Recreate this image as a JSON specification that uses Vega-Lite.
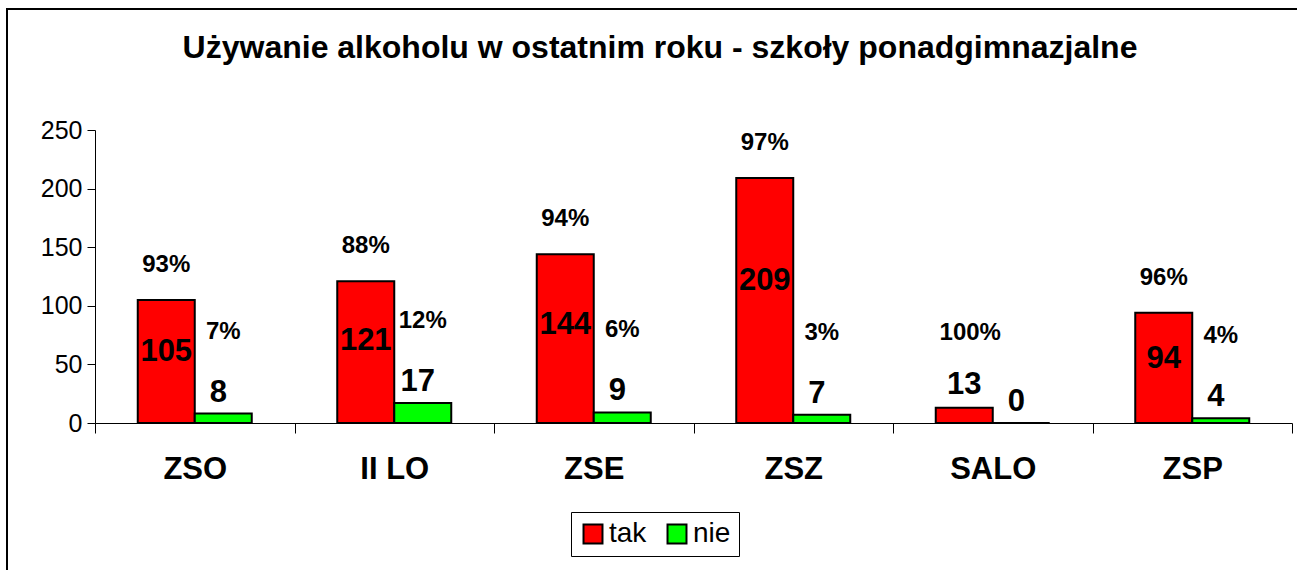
{
  "$schema": "https://vega.github.io/schema/vega-lite/v6.json",
  "width": 1294,
  "height": 565,
  "autosize": {"type": "none"},
  "padding": {"left": 7, "top": 9, "right": -4, "bottom": -4},
  "background": "white",
  "config": {
    "view": {"stroke": "#000", "strokeWidth": 2},
    "font": "Liberation Sans"
  },
  "title": {
    "text": "Używanie alkoholu w ostatnim roku - szkoły ponadgimnazjalne",
    "font": "Liberation Sans",
    "fontSize": 32,
    "fontWeight": "bold",
    "color": "#000",
    "anchor": "middle",
    "frame": "group",
    "offset": -56,
    "dx": 6
  },
  "data": {
    "values": [
      {"school": "ZSO", "series": "tak", "value": 105, "pct": "93%"},
      {"school": "ZSO", "series": "nie", "value": 8, "pct": "7%"},
      {"school": "II LO", "series": "tak", "value": 121, "pct": "88%"},
      {"school": "II LO", "series": "nie", "value": 17, "pct": "12%"},
      {"school": "ZSE", "series": "tak", "value": 144, "pct": "94%"},
      {"school": "ZSE", "series": "nie", "value": 9, "pct": "6%"},
      {"school": "ZSZ", "series": "tak", "value": 209, "pct": "97%"},
      {"school": "ZSZ", "series": "nie", "value": 7, "pct": "3%"},
      {"school": "SALO", "series": "tak", "value": 13, "pct": "100%"},
      {"school": "SALO", "series": "nie", "value": 0, "pct": ""},
      {"school": "ZSP", "series": "tak", "value": 94, "pct": "96%"},
      {"school": "ZSP", "series": "nie", "value": 4, "pct": "4%"}
    ]
  },
  "encoding": {
    "x": {
      "field": "school",
      "type": "nominal",
      "sort": ["ZSO", "II LO", "ZSE", "ZSZ", "SALO", "ZSP"],
      "scale": {"range": [88, 1285], "paddingInner": 0, "paddingOuter": 0},
      "axis": {
        "title": null,
        "orient": "bottom",
        "offset": -151,
        "tickBand": "extent",
        "tickSize": 10,
        "tickColor": "#000",
        "domainColor": "#000",
        "labelFontSize": 31,
        "labelFontWeight": "bold",
        "labelColor": "#000",
        "labelPadding": 21,
        "labelAngle": 0,
        "grid": false
      }
    },
    "xOffset": {
      "field": "series",
      "type": "nominal",
      "sort": ["tak", "nie"],
      "scale": {"paddingInner": 0, "paddingOuter": 0.75}
    }
  },
  "resolve": {"scale": {"y": "independent"}},
  "layer": [
    {
      "mark": {"type": "bar", "stroke": "#000", "strokeWidth": 2},
      "encoding": {
        "y": {
          "field": "value",
          "type": "quantitative",
          "scale": {"domain": [0, 250], "range": [414, 121], "nice": false},
          "axis": {
            "title": null,
            "offset": -88,
            "values": [0, 50, 100, 150, 200, 250],
            "tickSize": 8,
            "tickColor": "#000",
            "domainColor": "#000",
            "labelFontSize": 25,
            "labelColor": "#000",
            "labelPadding": 5,
            "grid": false
          }
        },
        "color": {
          "field": "series",
          "type": "nominal",
          "scale": {"domain": ["tak", "nie"], "range": ["#FF0000", "#00FF00"]},
          "legend": {
            "orient": "none",
            "legendX": 564,
            "legendY": 503,
            "direction": "horizontal",
            "title": null,
            "strokeColor": "#000",
            "fillColor": "white",
            "padding": 8,
            "symbolType": "square",
            "symbolSize": 360,
            "symbolStrokeColor": "#000",
            "symbolStrokeWidth": 2,
            "symbolOpacity": 1,
            "labelFontSize": 28,
            "labelColor": "#000",
            "labelOffset": 2,
            "columnPadding": 16
          }
        }
      }
    },
    {
      "transform": [{"filter": "datum.series == 'tak' && datum.value >= 20"}],
      "mark": {"type": "text", "fontSize": 31, "fontWeight": "bold", "baseline": "middle", "color": "#000"},
      "encoding": {
        "y": {"field": "value", "type": "quantitative", "scale": {"domain": [0, 431], "range": [414, 121], "nice": false}, "axis": null},
        "text": {"field": "value"}
      }
    },
    {
      "transform": [{"filter": "datum.series == 'tak' && datum.value < 20"}],
      "mark": {"type": "text", "fontSize": 31, "fontWeight": "bold", "baseline": "middle", "color": "#000", "dy": -23},
      "encoding": {
        "y": {"field": "value", "type": "quantitative", "scale": {"domain": [0, 250], "range": [414, 121], "nice": false}, "axis": null},
        "text": {"field": "value"}
      }
    },
    {
      "transform": [{"filter": "datum.series == 'nie'"}],
      "mark": {"type": "text", "fontSize": 31, "fontWeight": "bold", "baseline": "middle", "color": "#000", "dy": -21, "dx": -5},
      "encoding": {
        "y": {"field": "value", "type": "quantitative", "scale": {"domain": [0, 250], "range": [414, 121], "nice": false}, "axis": null},
        "text": {"field": "value"}
      }
    },
    {
      "transform": [{"filter": "datum.series == 'tak' && datum.value >= 20"}],
      "mark": {"type": "text", "fontSize": 24, "fontWeight": "bold", "baseline": "middle", "color": "#000", "dy": -35},
      "encoding": {
        "y": {"field": "value", "type": "quantitative", "scale": {"domain": [0, 250], "range": [414, 121], "nice": false}, "axis": null},
        "text": {"field": "pct"}
      }
    },
    {
      "transform": [{"filter": "datum.series == 'tak' && datum.value < 20"}],
      "mark": {"type": "text", "fontSize": 24, "fontWeight": "bold", "baseline": "middle", "color": "#000", "dy": -75, "dx": 6},
      "encoding": {
        "y": {"field": "value", "type": "quantitative", "scale": {"domain": [0, 250], "range": [414, 121], "nice": false}, "axis": null},
        "text": {"field": "pct"}
      }
    },
    {
      "transform": [{"filter": "datum.series == 'nie' && datum.pct != ''"}],
      "mark": {"type": "text", "fontSize": 24, "fontWeight": "bold", "baseline": "middle", "color": "#000", "dy": -82},
      "encoding": {
        "y": {"field": "value", "type": "quantitative", "scale": {"domain": [0, 250], "range": [414, 121], "nice": false}, "axis": null},
        "text": {"field": "pct"}
      }
    }
  ]
}
